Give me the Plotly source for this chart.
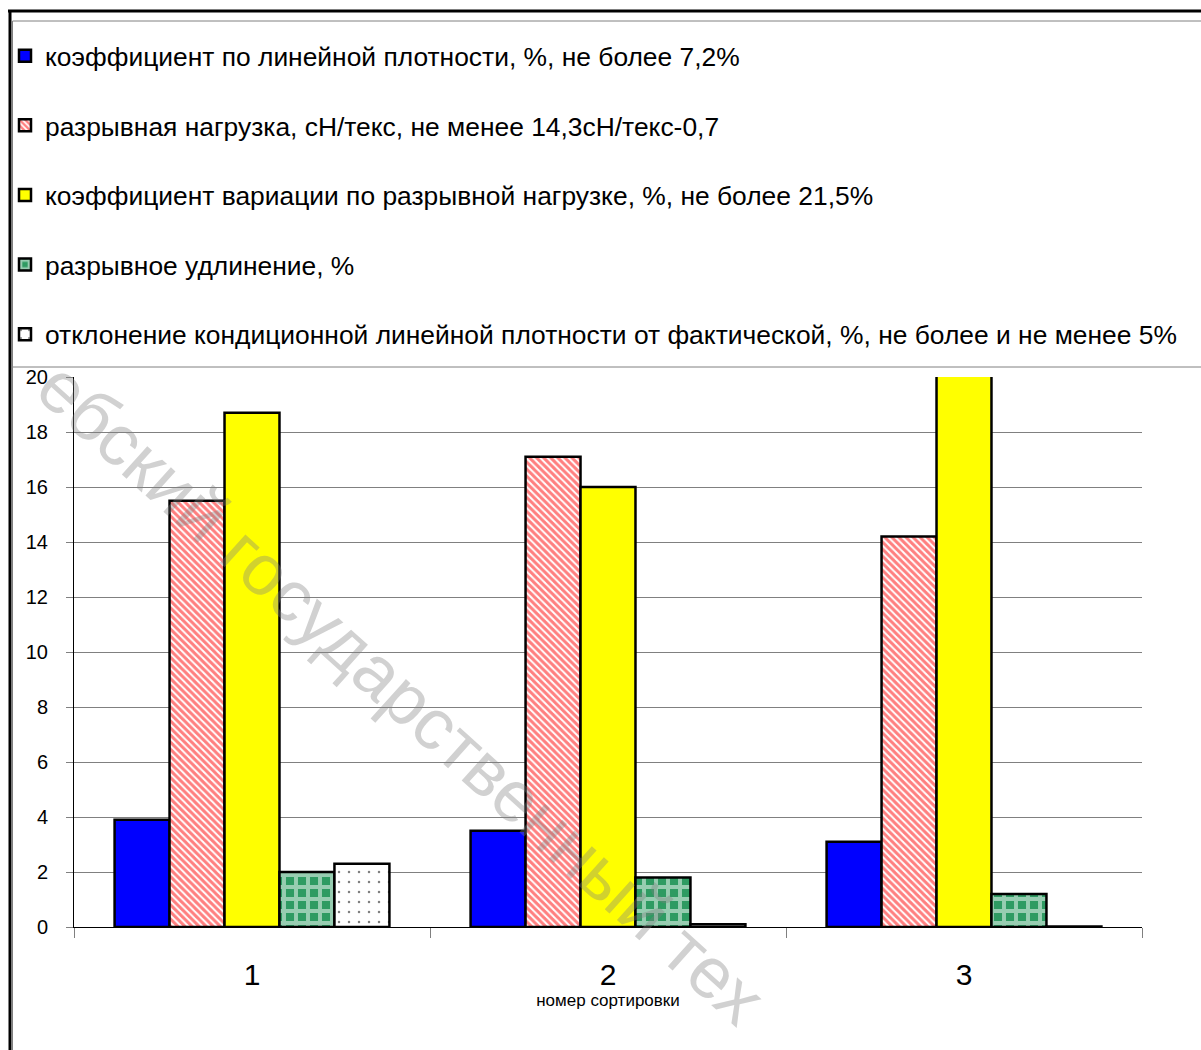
import plotly.graph_objects as go

# ---- data ----
categories = ["1", "2", "3"]
series_names = [
    "коэффициент по линейной плотности, %, не более 7,2%",
    "разрывная нагрузка, сН/текс, не менее 14,3сН/текс-0,7",
    "коэффициент вариации по разрывной нагрузке, %, не более 21,5%",
    "разрывное удлинение, %",
    "отклонение кондиционной линейной плотности от фактической, %, не более и не менее 5%",
]
lin_density_cv = [3.9, 3.5, 3.1]
breaking_load = [15.5, 17.1, 14.2]
breaking_load_cv = [18.7, 16.0, 21.5]
elongation = [2.0, 1.8, 1.2]
density_deviation = [2.3, 0.1, 0.02]
y_ticks = [0, 2, 4, 6, 8, 10, 12, 14, 16, 18, 20]
x_title = "номер сортировки"
watermark = "ебский государственный тех"

# ---- geometry (pixels) ----
W, H = 1201, 1050
PL, PR, PT, PB = 74, 1142, 377, 927


def px(x):
    return (x - PL) / (PR - PL)


def py(y):
    return (PB - y) / (PB - PT)


FONT = "Liberation Sans, Arial, sans-serif"
NARROW = "Liberation Sans Narrow, Arial Narrow, Liberation Sans, Arial, sans-serif"

styles = [
    dict(color="#0000FF"),
    dict(color="white", pattern=dict(shape="\\", fgcolor="#FF0000", bgcolor="white", size=5, solidity=0.6)),
    dict(color="#FFFF00"),
    dict(color="#2E9B62", pattern=dict(shape="+", fgcolor="white", bgcolor="#2E9B62", size=12, solidity=0.55)),
    dict(color="white", pattern=dict(shape=".", fgcolor="black", bgcolor="white", size=10, solidity=0.05)),
]
values = [lin_density_cv, breaking_load, breaking_load_cv, elongation, density_deviation]

fig = go.Figure()
for i, (name, vals, st) in enumerate(zip(series_names, values, styles)):
    marker = dict(line=dict(color="black", width=2.5))
    marker.update(st)
    fig.add_trace(go.Bar(
        x=categories, y=vals, name=name, marker=marker,
        legendgroup=f"g{i}",
    ))

shapes = [
    # outer frame
    dict(type="line", xref="paper", yref="paper", x0=px(10), x1=px(10), y0=py(10), y1=py(1060),
         line=dict(color="black", width=3)),
    dict(type="line", xref="paper", yref="paper", x0=px(8), x1=px(1210), y0=py(11), y1=py(11),
         line=dict(color="black", width=3)),
    # legend box
    dict(type="line", xref="paper", yref="paper", x0=px(12.5), x1=px(1210), y0=py(21), y1=py(21),
         line=dict(color="#808080", width=1)),
    dict(type="line", xref="paper", yref="paper", x0=px(12.5), x1=px(12.5), y0=py(21), y1=py(1060),
         line=dict(color="#808080", width=1)),
    dict(type="line", xref="paper", yref="paper", x0=px(12.5), x1=px(1210), y0=py(367), y1=py(367),
         line=dict(color="#808080", width=1)),
]

fig.update_layout(
    width=W, height=H,
    margin=dict(l=PL, r=W - PR, t=PT, b=H - PB, autoexpand=False),
    paper_bgcolor="white", plot_bgcolor="white",
    barmode="group", bargap=0.228, bargroupgap=0,
    font=dict(family=FONT, color="black"),
    showlegend=True,
    legend=dict(
        xref="container", yref="container", x=5 / W, y=1 - 32 / H,
        xanchor="left", yanchor="top",
        traceorder="grouped", tracegroupgap=32.3,
        font=dict(family=FONT, size=26.4, color="black"),
        bgcolor="rgba(0,0,0,0)", borderwidth=0,
    ),
    shapes=shapes,
    annotations=[
        dict(text=watermark, xref="paper", yref="paper", x=px(402), y=py(693),
             xanchor="center", yanchor="middle", textangle=42, showarrow=False,
             font=dict(family=FONT, size=72, color="rgba(128,128,128,0.36)")),
    ],
)

fig.update_yaxes(
    range=[0, 20], tickvals=y_ticks, ticktext=[str(v) for v in y_ticks],
    showgrid=True, gridcolor="#808080", gridwidth=1,
    showline=True, linecolor="black", linewidth=1,
    ticks="outside", ticklen=7, tickcolor="#808080",
    tickfont=dict(family=FONT, size=20), ticklabelstandoff=14,
    zeroline=False,
)
fig.update_xaxes(
    showline=True, linecolor="black", linewidth=1,
    ticks="outside", tickson="boundaries", ticklen=10, tickcolor="#808080",
    tickfont=dict(family=NARROW, size=30), ticklabelstandoff=21,
    title=dict(text=x_title, font=dict(family=NARROW, size=17), standoff=3),
)

fig.write_html("out.html")
